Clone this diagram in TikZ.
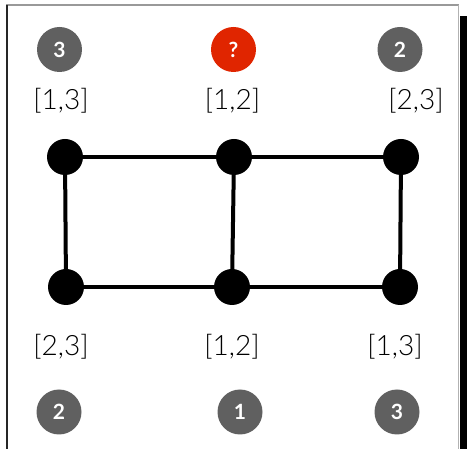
\documentclass[tikz,border=0pt]{standalone}
\usepackage{fontspec}
\setmainfont{Lato}
\newfontfamily\labelfont{Lato Light}
\begin{document}
\begin{tikzpicture}[x=1pt,y=-1pt,
  vertex/.style={circle,fill=black,minimum size=36pt,inner sep=0pt},
  edge/.style={line width=4pt},
  badge/.style={circle,fill=badgegray,minimum size=45pt,inner sep=0pt,
    text=white,font=\fontsize{21}{21}\selectfont\bfseries},
  query/.style={badge,fill=badgered},
  interval/.style={font=\labelfont\fontsize{28}{28}\selectfont,inner sep=0pt}]
\definecolor{badgegray}{HTML}{606060}
\definecolor{badgered}{HTML}{E02500}
\useasboundingbox (0,0) rectangle (467,449);
% frame
\draw[gray!80,line width=2pt] (6,5) -- (459,5);
\draw[black!85,line width=1.5pt] (7,5) -- (7,449);
\draw[gray!60,line width=1pt] (458,5) -- (458,449);
\fill[black] (460,16) rectangle (467,449);
% badges
\node[badge] (b1) at (59.5,49.5) {3};
\node[query] (b2) at (233.5,49.5) {?};
\node[badge] (b3) at (400,49.5) {2};
\node[badge] (b4) at (59,412) {2};
\node[badge] (b5) at (240,412) {1};
\node[badge] (b6) at (397,412) {3};
% interval labels
\node[interval] (l1) at (61,101) {[1,3]};
\node[interval] (l2) at (232.5,101) {[1,2]};
\node[interval] (l3) at (416,101) {[2,3]};
\node[interval] (l4) at (61,347) {[2,3]};
\node[interval] (l5) at (232,347) {[1,2]};
\node[interval] (l6) at (395,347) {[1,3]};
% graph
\node[vertex] (t1) at (65,157) {};
\node[vertex] (t2) at (234,157) {};
\node[vertex] (t3) at (401,157) {};
\node[vertex] (u1) at (66,287) {};
\node[vertex] (u2) at (232,287) {};
\node[vertex] (u3) at (400,287) {};
\draw[edge] (t1) -- (t2) -- (t3);
\draw[edge] (u1) -- (u2) -- (u3);
\draw[edge] (t1) -- (u1);
\draw[edge] (t2) -- (u2);
\draw[edge] (t3) -- (u3);
\end{tikzpicture}
\end{document}
